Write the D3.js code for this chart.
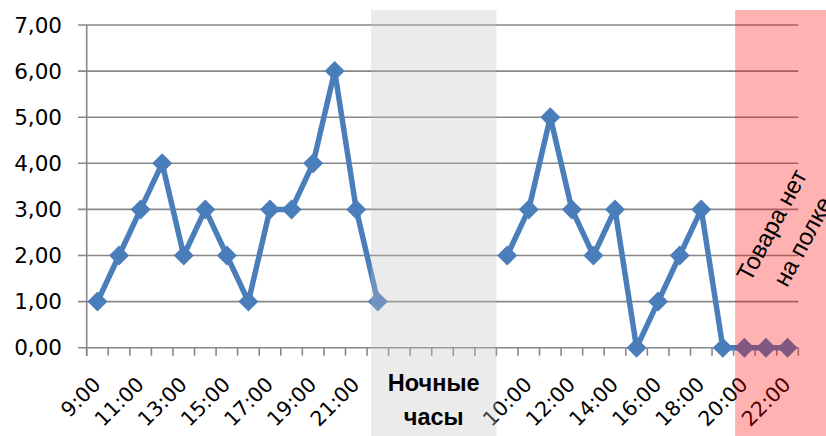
<!DOCTYPE html>
<html><head><meta charset="utf-8">
<script src="https://cdn.jsdelivr.net/npm/d3@7"></script>
<style>body{margin:0;background:#fff} svg{display:block}</style>
</head><body><svg id="c" width="826" height="436"></svg>
<script>
const categories = ["9:00","10:00","11:00","12:00","13:00","14:00","15:00","16:00","17:00","18:00","19:00","20:00","21:00","22:00",
  "","","","","",
  "9:00","10:00","11:00","12:00","13:00","14:00","15:00","16:00","17:00","18:00","19:00","20:00","21:00","22:00"];
const values = [1,2,3,4,2,3,2,1,3,3,4,6,3,1,
  null,null,null,null,null,
  2,3,5,3,2,3,0,1,2,3,0,0,0,0];
const yTicks = [0,1,2,3,4,5,6,7];
const nightLabel = ["Ночные","часы"];
const outLabel = ["Товара нет","на полке"];

const svg = d3.select("#c");
const FONT = "'Liberation Sans', Arial, sans-serif";
const NUMFONT = "'DejaVu Sans', Verdana, sans-serif";
const blue = "#4a7ebb", grid = "#878787";

const x = d3.scaleBand().domain(d3.range(categories.length)).range([86.7, 798.3]);
const y = d3.scaleLinear().domain([0, 7]).range([347.7, 25]);
const step = x.step();
const xEnd = x.range()[1];
const loc = d3.formatLocale({decimal: ",", thousands: " ", grouping: [3], currency: ["", ""]});
const fmt = loc.format(".2f");

// gridlines + y ticks
svg.append("g").selectAll("line").data(yTicks).join("line")
  .attr("x1", 78).attr("x2", xEnd)
  .attr("y1", d => y(d)).attr("y2", d => y(d))
  .attr("stroke", grid).attr("stroke-width", 1.6);

// y axis line
svg.append("line").attr("x1", x.range()[0]).attr("x2", x.range()[0])
  .attr("y1", y(7)).attr("y2", y(0) + 8).attr("stroke", grid).attr("stroke-width", 1.6);

// y labels
svg.append("g").selectAll("text").data(yTicks).join("text")
  .attr("x", 62).attr("y", d => y(d)).attr("dy", "0.36em")
  .attr("text-anchor", "end").attr("font-family", NUMFONT).attr("font-size", 21.5).attr("fill", "#000")
  .text(d => fmt(d));

// x tick marks at category boundaries
svg.append("g").selectAll("line").data(d3.range(categories.length + 1)).join("line")
  .attr("x1", i => x.range()[0] + i * step).attr("x2", i => x.range()[0] + i * step)
  .attr("y1", y(0)).attr("y2", y(0) + 8)
  .attr("stroke", grid).attr("stroke-width", 1.6);

// x labels (every second)
svg.append("g").selectAll("text").data(d3.range(categories.length).filter(i => i % 2 === 0)).join("text")
  .attr("transform", i => `translate(${x(i) + step / 2 + 4.5},${y(0) + 38}) rotate(-45)`)
  .attr("text-anchor", "end").attr("font-family", NUMFONT).attr("font-size", 20.5).attr("fill", "#000")
  .text(i => categories[i]);

// line
const pts = values.map((v, i) => ({i, v}));
const line = d3.line().defined(d => d.v !== null)
  .x(d => x(d.i) + step / 2).y(d => y(d.v));
svg.append("path").datum(pts).attr("d", line)
  .attr("fill", "none").attr("stroke", blue).attr("stroke-width", 5.5).attr("stroke-linejoin", "round");

// markers
const r = 10;
svg.append("g").selectAll("path").data(pts.filter(d => d.v !== null)).join("path")
  .attr("transform", d => `translate(${x(d.i) + step / 2},${y(d.v)})`)
  .attr("d", `M0,${-r}L${r},0L0,${r}L${-r},0Z`).attr("fill", blue);

// overlays
const nightX0 = x(13) + 4, nightX1 = x(19);
svg.append("rect").attr("x", nightX0).attr("y", 10).attr("width", nightX1 - nightX0).attr("height", 426)
  .attr("fill", "#c2c2c2").attr("fill-opacity", 0.32);
const redX0 = x(30) + 1.5;
svg.append("rect").attr("x", redX0).attr("y", 10).attr("width", 826 - redX0).attr("height", 426)
  .attr("fill", "#ff0000").attr("fill-opacity", 0.3);

// annotations
const nx = (nightX0 + nightX1) / 2;
svg.append("g").selectAll("text").data(nightLabel).join("text")
  .attr("x", nx).attr("y", (d, k) => 391 + k * 34)
  .attr("text-anchor", "middle").attr("font-family", FONT).attr("font-weight", "bold")
  .attr("font-size", 23.5).attr("fill", "#000").text(d => d);

svg.append("g").attr("transform", "translate(779,229) rotate(-62)")
  .selectAll("text").data(outLabel).join("text")
  .attr("x", 0).attr("y", (d, k) => k * 35)
  .attr("text-anchor", "middle").attr("font-family", FONT)
  .attr("font-size", 24).attr("fill", "#000").text(d => d);
</script></body></html>
